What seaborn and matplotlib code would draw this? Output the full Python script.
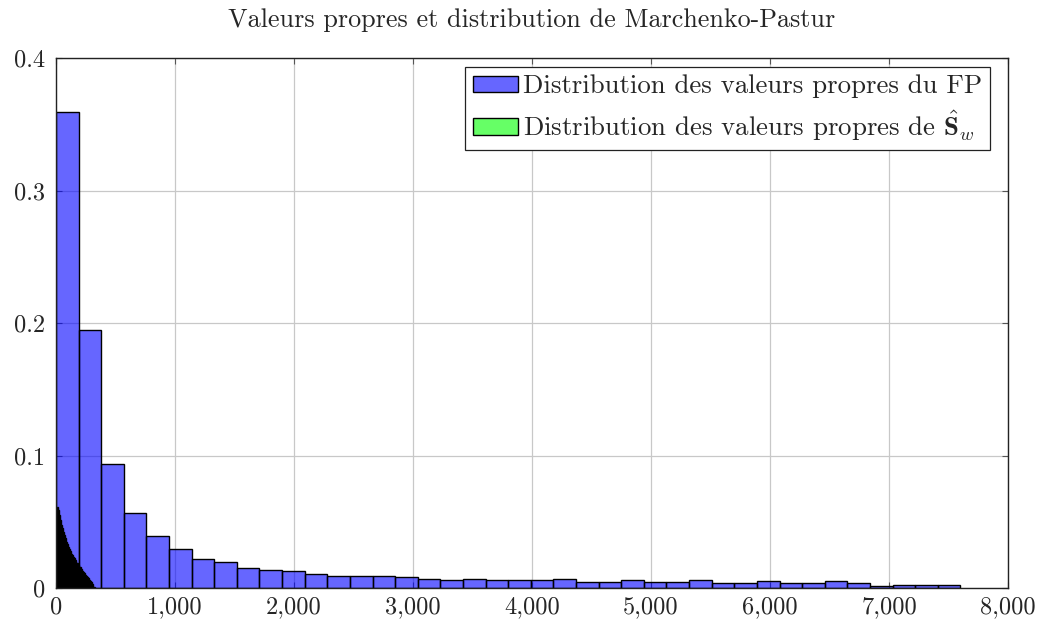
import numpy as np
import pandas as pd
import matplotlib
matplotlib.use("Agg")
import matplotlib.pyplot as plt
from matplotlib.patches import Patch
from matplotlib.ticker import FuncFormatter
import seaborn as sns

# Histogramme des valeurs propres du FP : 40 classes sur [0, 7600]
fp_max = 7600
fp_freq = [0.359, 0.1947, 0.0938, 0.0568, 0.0395, 0.0292, 0.0216, 0.0194, 0.0148, 0.0138,
           0.0126, 0.0108, 0.0093, 0.0093, 0.0093, 0.0083, 0.0070, 0.0060, 0.0070, 0.0060,
           0.0060, 0.0060, 0.0070, 0.0048, 0.0048, 0.0060, 0.0048, 0.0048, 0.0060, 0.0038,
           0.0038, 0.0050, 0.0038, 0.0038, 0.0050, 0.0038, 0.0018, 0.0025, 0.0025, 0.0025]

# Histogramme des valeurs propres de S_w : 40 classes sur [0, 328]
sw_max = 328
sw_freq = [0.016, 0.061, 0.059, 0.055, 0.051, 0.0475, 0.045, 0.0425, 0.040, 0.0375,
           0.035, 0.033, 0.031, 0.0294, 0.028, 0.026, 0.025, 0.0236, 0.0224, 0.021,
           0.020, 0.019, 0.0186, 0.0174, 0.016, 0.0155, 0.0143, 0.0128, 0.0123, 0.011,
           0.0098, 0.009, 0.0085, 0.0073, 0.006, 0.0053, 0.0043, 0.0028, 0.001, 0.0005]

labels = ["Distribution des valeurs propres du FP",
          r"Distribution des valeurs propres de $\hat{\mathbf{S}}_w$"]
title = "Valeurs propres et distribution de Marchenko-Pastur"
x_ticks = [0, 1000, 2000, 3000, 4000, 5000, 6000, 7000, 8000]
y_ticks = [0, 0.1, 0.2, 0.3, 0.4]

sns.set_theme(style="whitegrid")
plt.rcParams["font.family"] = ["cmr10", "DejaVu Serif"]
plt.rcParams["mathtext.fontset"] = "cm"
plt.rcParams["axes.unicode_minus"] = False
plt.rcParams["axes.formatter.use_mathtext"] = True

blue_fill = (0.0, 0.0, 1.0, 0.6)
green_fill = (0.0, 1.0, 0.0, 0.6)

fig = plt.figure(figsize=(10.48, 6.21), dpi=100)
ax = fig.add_axes([56 / 1048, 1 - 588 / 621, 952 / 1048, 530 / 621])
ax.set_facecolor("white")


def draw_hist(freqs, upper, fill):
    edges = np.linspace(0, upper, len(freqs) + 1)
    df = pd.DataFrame({"valeur": (edges[:-1] + edges[1:]) / 2,
                       "frequence": np.asarray(freqs, dtype=float)})
    n_before = len(ax.patches)
    sns.histplot(data=df, x="valeur", weights="frequence", bins=edges.tolist(),
                 stat="count", ax=ax, element="bars", legend=False)
    for p in ax.patches[n_before:]:
        p.set_facecolor(fill)
        p.set_edgecolor("black")
        p.set_linewidth(1.0)
        p.set_alpha(None)
        p.set_zorder(2)


draw_hist(fp_freq, fp_max, blue_fill)
draw_hist(sw_freq, sw_max, green_fill)

ax.set_xlim(0, 8000)
ax.set_ylim(0, 0.4)
ax.set_xticks(x_ticks)
ax.set_yticks(y_ticks)
ax.xaxis.set_major_formatter(FuncFormatter(lambda v, _: f"{v:,.0f}"))
ax.yaxis.set_major_formatter(FuncFormatter(lambda v, _: "0" if v == 0 else f"{v:.1f}"))
ax.set_xlabel("")
ax.set_ylabel("")

ax.grid(True, color="#c8c8c8", linewidth=0.9, zorder=0)
ax.set_axisbelow(True)
for s in ax.spines.values():
    s.set_color("#222222")
    s.set_linewidth(1.0)
    s.set_zorder(5)

ax.tick_params(axis="both", which="major", direction="in", length=4, width=0.8,
               color="#555555", labelsize=17.5,
               top=True, right=True, bottom=True, left=True)
ax.tick_params(axis="x", pad=6)
ax.tick_params(axis="y", pad=8)

ax.set_title(title, fontsize=18.8, pad=22)

handles = [Patch(facecolor=blue_fill, edgecolor="black", linewidth=1.0),
           Patch(facecolor=green_fill, edgecolor="black", linewidth=1.0)]
leg = ax.legend(handles, labels, loc="upper right", bbox_to_anchor=(0.981, 0.983),
                borderaxespad=0, fontsize=19.3, frameon=True, fancybox=False,
                framealpha=1, edgecolor="#222222", handlelength=1.68,
                handleheight=0.55, handletextpad=0.2, borderpad=0.28,
                labelspacing=0.38)
leg.get_frame().set_linewidth(0.9)

fig.savefig("out.png", dpi=100)
